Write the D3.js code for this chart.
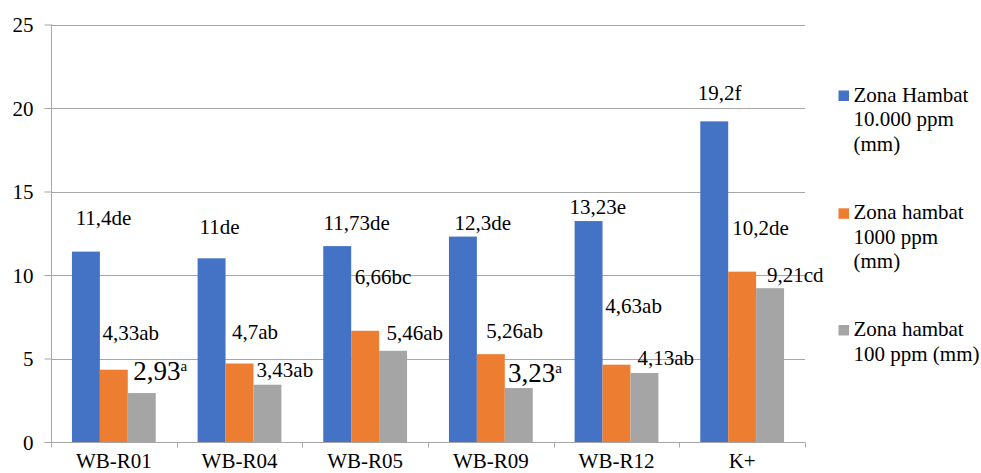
<!DOCTYPE html>
<html>
<head>
<meta charset="utf-8">
<script src="https://cdn.jsdelivr.net/npm/d3@7/dist/d3.min.js"></script>
<style>
  html, body { margin: 0; padding: 0; background: #fff; }
  svg { display: block; }
  svg text { font-family: "Liberation Serif", "Times New Roman", Tinos, Times, "DejaVu Serif", serif !important; fill: #000; }
</style>
</head>
<body>
<svg id="chart" width="981" height="473"></svg>
<script>
// ---- data ----
const categories = ["WB-R01", "WB-R04", "WB-R05", "WB-R09", "WB-R12", "K+"];
const seriesNames = [
  ["Zona Hambat", "10.000 ppm", "(mm)"],
  ["Zona hambat", "1000 ppm", "(mm)"],
  ["Zona hambat", "100 ppm (mm)"]
];
const hambat10000 = [11.4, 11, 11.73, 12.3, 13.23, 19.2];
const hambat1000 = [4.33, 4.7, 6.66, 5.26, 4.63, 10.2];
const hambat100 = [2.93, 3.43, 5.46, 3.23, 4.13, 9.21];
const letters10000 = ["de", "de", "de", "de", "e", "f"];
const letters1000 = ["ab", "ab", "bc", "ab", "ab", "de"];
const letters100 = ["^a", "ab", "ab", "^a", "ab", "cd"];
const yTicks = [0, 5, 10, 15, 20, 25];

// ---- layout / style (separate from data) ----
const colors = ["#4472C4", "#ED7D31", "#A5A5A5"];
const labelOffsets = [
  [[3.7, -26.3], [2, -24.7], [0.3, -16.5], [5.6, -7], [-5, -7.5], [-2.5, -21]],
  [[2.6, -29.4], [6.5, -24.9], [3.5, -47.2], [9.5, -16.6], [2.8, -51.7], [4.1, -36.4]],
  [[5.4, -13.5], [3.1, -7.7], [7.4, -11.2], [3.3, -6.1], [7, -7.7], [10.9, -6.2]]
];
const legendTop = [101.5, 219.3, 336];
const FONT = '"Liberation Serif", "Times New Roman", Tinos, Times, "DejaVu Serif", serif';
const FS = 21;

const values = [hambat10000, hambat1000, hambat100];
const letters = [letters10000, letters1000, letters100];

const svg = d3.select("#chart").attr("font-family", FONT);
const x0 = 51, x1 = 805, yBottom = 442, yTop = 24.5;

const x = d3.scaleBand().domain(categories).range([x0, x1]).padding(0);
const y = d3.scaleLinear().domain([0, 25]).range([yBottom, yTop]);
const barW = x.bandwidth() / 4.5;
const xs = d3.scaleBand().domain([0, 1, 2]).range([0.75 * barW, 3.75 * barW]).padding(0);

// gridlines
svg.append("g").selectAll("line").data(yTicks.filter(d => d > 0)).join("line")
  .attr("x1", x0).attr("x2", x1)
  .attr("y1", d => Math.round(y(d)) + 0.5).attr("y2", d => Math.round(y(d)) + 0.5)
  .attr("stroke", "#a6a6a6").attr("stroke-width", 1);

// y axis
const yAxis = d3.axisLeft(y).tickValues(yTicks).tickSize(7).tickPadding(11).tickFormat(d3.format("d"));
const gy = svg.append("g").attr("transform", `translate(${x0 + 0.5},0)`).call(yAxis)
  .attr("font-family", FONT).attr("font-size", FS);
gy.select(".domain").attr("stroke", "#a6a6a6").attr("d", `M0,${y(25)}V${y(0)}`);
gy.selectAll(".tick line").attr("stroke", "#a6a6a6");
gy.selectAll(".tick text").attr("fill", "#000").attr("dy", "0.35em");

// bars
values.forEach((vals, s) => {
  svg.append("g").selectAll("rect").data(vals).join("rect")
    .attr("x", (d, i) => x(categories[i]) + xs(s))
    .attr("width", barW)
    .attr("y", d => y(d))
    .attr("height", d => y(0) - y(d))
    .attr("fill", colors[s]);
});

// x axis
const xAxisG = svg.append("g").attr("transform", `translate(0,${Math.round(yBottom) + 0.5})`);
xAxisG.append("line").attr("x1", x0).attr("x2", x1).attr("y1", 0).attr("y2", 0).attr("stroke", "#a6a6a6");
const bounds = categories.map(c => x(c)).concat([x1]);
xAxisG.selectAll("line.tk").data(bounds).join("line").attr("class", "tk")
  .attr("x1", d => Math.round(d) + 0.5).attr("x2", d => Math.round(d) + 0.5)
  .attr("y1", 0).attr("y2", 5).attr("stroke", "#a6a6a6");
xAxisG.selectAll("text").data(categories).join("text")
  .attr("x", d => x(d) + x.bandwidth() / 2)
  .attr("y", 25)
  .attr("text-anchor", "middle")
  .attr("font-size", FS)
  .text(d => d);

// data labels
values.forEach((vals, s) => {
  vals.forEach((v, i) => {
    const bx = x(categories[i]) + xs(s);
    const by = y(v);
    const [dx, dy] = labelOffsets[s][i];
    const num = String(v).replace(".", ",");
    const suf = letters[s][i];
    const t = svg.append("text").attr("x", bx + dx).attr("y", by + dy);
    if (suf.startsWith("^")) {
      t.attr("font-size", 27);
      t.append("tspan").text(num);
      t.append("tspan").attr("font-size", 15).attr("dy", -9).text(suf.slice(1));
    } else {
      t.attr("font-size", FS).text(num + suf);
    }
  });
});

// legend
seriesNames.forEach((lines, s) => {
  const base = legendTop[s];
  svg.append("rect").attr("x", 838.5).attr("y", base - 11).attr("width", 10.5).attr("height", 10.5).attr("fill", colors[s]);
  const t = svg.append("text").attr("x", 853.5).attr("y", base).attr("font-size", FS);
  lines.forEach((ln, k) => {
    t.append("tspan").attr("x", 853.5).attr("dy", k === 0 ? 0 : 24.5).text(ln);
  });
});
</script>
</body>
</html>
